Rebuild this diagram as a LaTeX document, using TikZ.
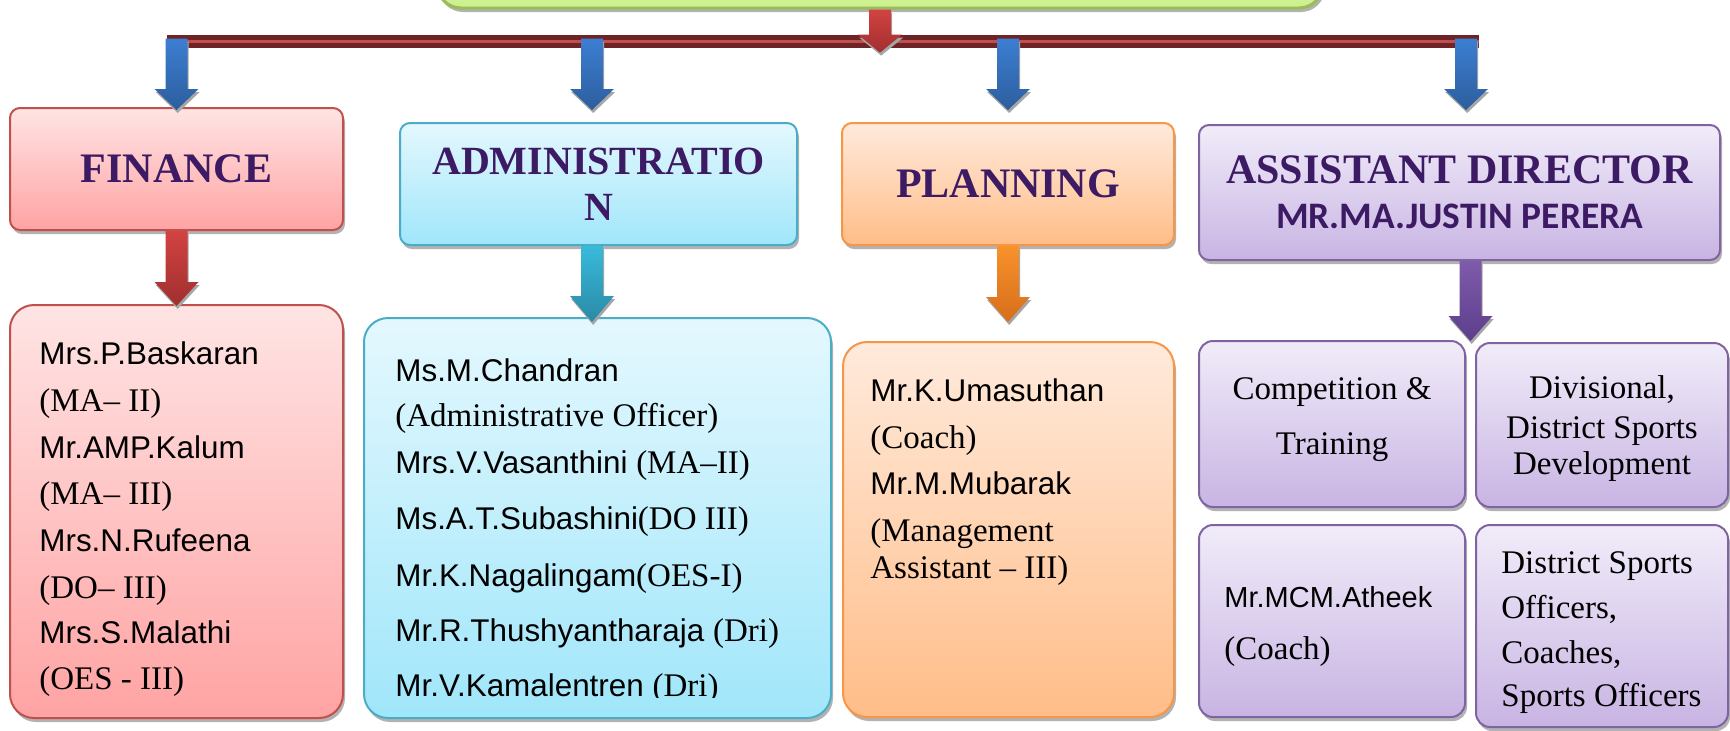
\documentclass[tikz,border=0pt]{standalone}
\usepackage{fontspec}
\setmainfont{Liberation Serif}
\newfontfamily\sansn{Liberation Sans}
\newfontfamily\carl{Carlito}
\usetikzlibrary{calc,shadows}
\definecolor{hdr}{HTML}{3C1A64}
\definecolor{finT}{HTML}{FFE4E4}\definecolor{finB}{HTML}{FFA3A3}\definecolor{finD}{HTML}{C0504D}
\definecolor{admT}{HTML}{E4F8FE}\definecolor{admB}{HTML}{A0E6FA}\definecolor{admD}{HTML}{4BACC6}
\definecolor{plaT}{HTML}{FFEADC}\definecolor{plaB}{HTML}{FFBD88}\definecolor{plaD}{HTML}{F79646}
\definecolor{adT}{HTML}{F1ECF9}\definecolor{adB}{HTML}{C8B4E3}\definecolor{adD}{HTML}{8064A2}
\definecolor{grT}{HTML}{E2F8C0}\definecolor{grB}{HTML}{CCF08E}\definecolor{grD}{HTML}{9BBB59}
\definecolor{barD}{HTML}{6E2426}\definecolor{barL}{HTML}{C0504D}
\definecolor{bluT}{HTML}{3C7ED2}\definecolor{bluB}{HTML}{2C5E9E}
\definecolor{redT}{HTML}{D24341}\definecolor{redB}{HTML}{A02F2F}
\definecolor{tealT}{HTML}{38BADB}\definecolor{tealB}{HTML}{2A8AA6}
\definecolor{oraT}{HTML}{F8922A}\definecolor{oraB}{HTML}{D66E1C}
\definecolor{purT}{HTML}{7E5AAA}\definecolor{purB}{HTML}{5C3F8C}
\newcommand{\sermix}{\rmfamily\fontsize{16.5}{19}\selectfont}
% block arrow: from, to, head length, top colour, bottom colour
\newcommand{\blockarrow}[5]{%
  \fill[black!35] let \p1=(#1), \p2=(#2) in
    (\x1-5.5pt+0.6pt,\y1-1.5pt) -- (\x1+5.5pt+0.6pt,\y1-1.5pt) -- (\x1+5.5pt+0.6pt,\y2+#3-1.5pt)
    -- (\x1+11pt+0.6pt,\y2+#3-1.5pt) -- (\x1+0.6pt,\y2-1.5pt) -- (\x1-11pt+0.6pt,\y2+#3-1.5pt)
    -- (\x1-5.5pt+0.6pt,\y2+#3-1.5pt) -- cycle;
  \shade[top color=#4, bottom color=#5] let \p1=(#1), \p2=(#2) in
    (\x1-5.5pt,\y1) -- (\x1+5.5pt,\y1) -- (\x1+5.5pt,\y2+#3)
    -- (\x1+11pt,\y2+#3) -- (\x1,\y2) -- (\x1-11pt,\y2+#3)
    -- (\x1-5.5pt,\y2+#3) -- cycle;
}
\tikzset{
  box/.style={draw, line width=1pt, rounded corners=5pt, inner sep=0pt,
    drop shadow={shadow xshift=1pt, shadow yshift=-2pt, fill=black!30, opacity=1}},
  finbox/.style={box, draw=finD, top color=finT, bottom color=finB},
  admbox/.style={box, draw=admD, top color=admT, bottom color=admB},
  plabox/.style={box, draw=plaD, top color=plaT, bottom color=plaB},
  adbox/.style={box, draw=adD, top color=adT, bottom color=adB},
  grbox/.style={box, draw=grD, line width=1.5pt, top color=grT, bottom color=grB, rounded corners=12pt},
  listr/.style={rounded corners=12pt},
  subr/.style={rounded corners=7pt},
  hdrtxt/.style={font=\bfseries\fontsize{21}{24}\selectfont, text=hdr},
  nm/.style={anchor=base west, font=\sansn\fontsize{15.7}{18}\selectfont, inner sep=0pt},
  sr/.style={anchor=base west, font=\fontsize{16.5}{19}\selectfont, inner sep=0pt},
  src/.style={anchor=base, font=\fontsize{16.5}{19}\selectfont, inner sep=0pt},
}
\begin{document}
\begin{tikzpicture}[x=0.5pt,y=-0.5pt]
\useasboundingbox (0,0) rectangle (1730,730);
% top box
\node[grbox, minimum width=443pt, minimum height=54pt] (top) at (880,-46) {};
% bar
\node[fill=barD, minimum width=656pt, minimum height=6.5pt, inner sep=0pt] (bar) at (823,41.5) {};
\draw[barL, line width=1.6pt] (bar.west) -- (bar.east);
% level 1 boxes
\node[finbox, hdrtxt, minimum width=166.5pt, minimum height=61pt] (fin) at (176.5,169) {FINANCE};
\node[admbox, hdrtxt, font=\bfseries\fontsize{20}{23}\selectfont, align=center, minimum width=198.5pt, minimum height=61pt] (adm) at (598.5,184) {ADMINISTRATIO\\N};
\node[plabox, hdrtxt, minimum width=166pt, minimum height=61pt] (pla) at (1008,184) {PLANNING};
\node[adbox, hdrtxt, font=\bfseries\fontsize{21}{22.5}\selectfont, align=center, minimum width=260.5pt, minimum height=67.5pt] (ad) at (1459.5,192.5)
  {ASSISTANT DIRECTOR\\{\carl\bfseries\fontsize{18.7}{22}\selectfont MR.MA.JUSTIN PERERA}};
% level 2 boxes
\node[finbox, listr, minimum width=166.5pt, minimum height=206.5pt] (finlist) at (176.5,511.5) {};
\node[admbox, listr, minimum width=233.5pt, minimum height=200pt] (admlist) at (597.5,518) {};
\node[plabox, listr, minimum width=165.5pt, minimum height=187.5pt] (plalist) at (1008.5,529.5) {};
\node[adbox, subr, minimum width=133pt, minimum height=83pt] (comp) at (1332,424) {};
\node[adbox, subr, minimum width=126pt, minimum height=82pt] (div) at (1602,425) {};
\node[adbox, subr, minimum width=133pt, minimum height=96pt] (ath) at (1332,621) {};
\node[adbox, subr, minimum width=126pt, minimum height=101pt] (dso) at (1602,626) {};
% arrows
\coordinate (tipline) at (0,110);
\coordinate (a0s) at (top.south);
\coordinate (a0e) at ($(top.south |- bar.north)+(0,18)$);
\blockarrow{a0s}{a0e}{9pt}{redT}{redB}
\coordinate (b1s) at ($(fin.north |- bar.north)+(0,4)$);
\coordinate (b1e) at (fin.north |- tipline);
\blockarrow{b1s}{b1e}{10.5pt}{bluT}{bluB}
\coordinate (b2s) at ($(adm.north |- bar.north)+(-6.5,4)$);
\coordinate (b2e) at ($(adm.north |- tipline)+(-6.5,0)$);
\blockarrow{b2s}{b2e}{10.5pt}{bluT}{bluB}
\coordinate (b3s) at ($(pla.north |- bar.north)+(0,4)$);
\coordinate (b3e) at (pla.north |- tipline);
\blockarrow{b3s}{b3e}{10.5pt}{bluT}{bluB}
\coordinate (b4s) at ($(ad.north |- bar.north)+(6.5,4)$);
\coordinate (b4e) at ($(ad.north |- tipline)+(6.5,0)$);
\blockarrow{b4s}{b4e}{10.5pt}{bluT}{bluB}
\coordinate (c1s) at (fin.south);
\coordinate (c1e) at ($(finlist.north)+(0,2)$);
\blockarrow{c1s}{c1e}{12pt}{redT}{redB}
\coordinate (c2s) at ($(adm.south)+(-6.5,0)$);
\coordinate (c2e) at ($(admlist.north)+(-5.5,5)$);
\blockarrow{c2s}{c2e}{13pt}{tealT}{tealB}
\coordinate (c3s) at (pla.south);
\coordinate (c3e) at ($(plalist.north)+(0,-19)$);
\blockarrow{c3s}{c3e}{12.5pt}{oraT}{oraB}
\coordinate (c4e) at ($(comp.north east)!0.5!(div.north west)$);
\coordinate (c4s) at (ad.south -| c4e);
\blockarrow{c4s}{c4e}{12.5pt}{purT}{purB}
% finance list
\node[nm] (f1) at (39,364) {Mrs.P.Baskaran};
\node[sr] (f2) at (39,411) {(MA– II)};
\node[nm] (f3) at (39,458) {Mr.AMP.Kalum};
\node[sr] (f4) at (39,504) {(MA– III)};
\node[nm] (f5) at (39,551) {Mrs.N.Rufeena};
\node[sr] (f6) at (39,598) {(DO– III)};
\node[nm] (f7) at (39,643) {Mrs.S.Malathi};
\node[sr] (f8) at (39,689) {(OES - III)};
% administration list
\node[nm] (a1) at (395,381) {Ms.M.Chandran};
\node[sr] (a2) at (395,426) {(Administrative Officer)};
\node[nm] (a3) at (395,473) {Mrs.V.Vasanthini {\sermix(MA–II)}};
\node[nm] (a4) at (395,529) {Ms.A.T.Subashini{\sermix(DO III)}};
\node[nm] (a5) at (395,586) {Mr.K.Nagalingam{\sermix(OES-I)}};
\node[nm] (a6) at (395,641) {Mr.R.Thushyantharaja {\sermix(Dri)}};
\begin{scope}
\clip (364,660) rectangle (831,697);
\node[nm] (a7) at (395,696) {Mr.V.Kamalentren {\sermix(Dri)}};
\end{scope}
% planning list
\node[nm] (p1) at (870,401) {Mr.K.Umasuthan};
\node[sr] (p2) at (870,448) {(Coach)};
\node[nm] (p3) at (870,494) {Mr.M.Mubarak};
\node[sr] (p4) at (870,541) {(Management};
\node[sr] (p5) at (870,578) {Assistant – III)};
% assistant director sub boxes
\node[src] (t1) at (1332,399) {Competition \&};
\node[src] (t2) at (1332,454) {Training};
\node[src] (d1) at (1602,398) {Divisional,};
\node[src] (d2) at (1602,438) {District Sports};
\node[src] (d3) at (1602,474) {Development};
\node[nm, font=\sansn\fontsize{14.5}{17}\selectfont] (h1) at (1224,607) {Mr.MCM.Atheek};
\node[sr] (h2) at (1224,659) {(Coach)};
\node[sr] (s1) at (1501,573) {District Sports};
\node[sr] (s2) at (1501,618) {Officers,};
\node[sr] (s3) at (1501,663) {Coaches,};
\node[sr] (s4) at (1501,706) {Sports Officers};
\end{tikzpicture}
\end{document}
